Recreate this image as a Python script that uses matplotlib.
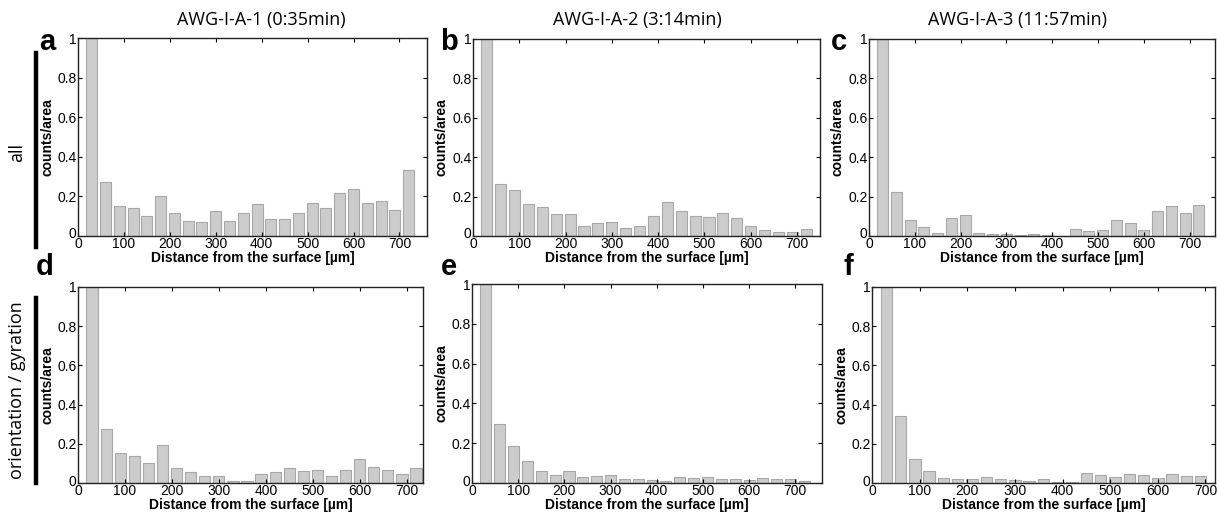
import numpy as np
import matplotlib
matplotlib.use("Agg")
import matplotlib.pyplot as plt
import matplotlib.transforms as mtransforms

# bin centres in micrometres (30 um bins)
bin_width = 30
titles = ["AWG-I-A-1 (0:35min)", "AWG-I-A-2 (3:14min)", "AWG-I-A-3 (11:57min)"]
row_labels = ["all", "orientation / gyration"]
letters = ["a", "b", "c", "d", "e", "f"]

all_1 = [1.0, 0.275, 0.15, 0.14, 0.10, 0.20, 0.115, 0.075, 0.07, 0.125, 0.075, 0.115,
         0.16, 0.085, 0.085, 0.115, 0.165, 0.14, 0.215, 0.235, 0.165, 0.175, 0.13, 0.335]
all_2 = [1.0, 0.265, 0.235, 0.16, 0.145, 0.11, 0.11, 0.05, 0.065, 0.07, 0.04, 0.05,
         0.10, 0.175, 0.125, 0.10, 0.095, 0.115, 0.09, 0.05, 0.03, 0.02, 0.02, 0.035]
all_3 = [1.0, 0.225, 0.08, 0.045, 0.015, 0.09, 0.105, 0.015, 0.012, 0.008, 0.005, 0.012,
         0.003, 0.002, 0.035, 0.025, 0.03, 0.08, 0.065, 0.03, 0.125, 0.15, 0.115, 0.155]
gyr_1 = [1.0, 0.275, 0.155, 0.14, 0.10, 0.195, 0.075, 0.055, 0.035, 0.035, 0.01, 0.01,
         0.045, 0.055, 0.075, 0.06, 0.065, 0.035, 0.065, 0.125, 0.08, 0.065, 0.045, 0.075]
gyr_2 = [1.0, 0.295, 0.185, 0.11, 0.06, 0.04, 0.06, 0.028, 0.035, 0.038, 0.02, 0.02,
         0.015, 0.012, 0.03, 0.027, 0.028, 0.022, 0.02, 0.015, 0.025, 0.02, 0.018, 0.012]
gyr_3 = [1.0, 0.34, 0.12, 0.06, 0.028, 0.022, 0.022, 0.03, 0.018, 0.015, 0.012, 0.02,
         0.005, 0.004, 0.052, 0.04, 0.03, 0.045, 0.042, 0.028, 0.048, 0.035, 0.038]

series = [all_1, all_2, all_3, gyr_1, gyr_2, gyr_3]
x_max = [760, 750, 755, 735, 758, 720]

# axes boxes in pixels (left, right, top, bottom) of a 1220x512 figure
W, H = 1220, 512
boxes = [(78, 427, 38, 236), (473, 820, 39, 236), (869, 1215, 39, 236),
         (78, 423, 287, 483), (472, 822, 284, 483), (872, 1215, 287, 483)]
# panel letter positions (centre x, baseline y) in pixels
letter_pos = [(47, 50), (449, 50), (839, 50), (45, 275), (449, 275), (848, 275)]
title_x = [261, 637, 1017]

fig = plt.figure(figsize=(12.2, 5.12), dpi=100)
tick_font = "Liberation Sans"
title_font = "Open Sans"

for i, (vals, box) in enumerate(zip(series, boxes)):
    l, r, t, b = box
    ax = fig.add_axes([l / W, 1 - b / H, (r - l) / W, (b - t) / H])
    centers = bin_width * np.arange(1, len(vals) + 1)
    ax.bar(centers, vals, width=24, color="#cccccc", edgecolor="#a8a8a8", linewidth=0.8)
    ax.set_xlim(0, x_max[i])
    ax.set_ylim(0, 1)
    ax.set_xticks(np.arange(0, 701, 100))
    ax.set_yticks([0, 0.2, 0.4, 0.6, 0.8, 1])
    ax.set_yticklabels(["0", "0.2", "0.4", "0.6", "0.8", "1"])
    ax.tick_params(direction="in", top=True, right=True, length=3, width=0.8,
                   labelsize=10, pad=1)
    for lab in ax.get_xticklabels() + ax.get_yticklabels():
        lab.set_fontfamily(tick_font)
    # lift the y "0" a little so it sits just above the x "0", as in the figure
    y0 = ax.get_yticklabels()[0]
    y0.set_transform(y0.get_transform() +
                     mtransforms.ScaledTranslation(0, 3 / 100, fig.dpi_scale_trans))
    for sp in ax.spines.values():
        sp.set_linewidth(1.0)
        sp.set_color("#222222")
    ax.set_xlabel("Distance from the surface [µm]", fontsize=10, fontweight="bold",
                  family=tick_font, labelpad=0)
    ax.set_ylabel("counts/area", fontsize=10, fontweight="bold", family=tick_font)
    ax.yaxis.set_label_coords(-24 / (r - l), 0.5)

    lx, ly = letter_pos[i]
    fig.text(lx / W, 1 - ly / H, letters[i], fontsize=21, fontweight="bold",
             family=tick_font, ha="center", va="baseline")

# column titles
for j, title in enumerate(titles):
    fig.text(title_x[j] / W, 1 - 20 / H, title, ha="center", va="center",
             fontsize=13, family=title_font)

# row labels with black bars
fig.text(17 / W, 1 - 152 / H, row_labels[0], rotation=90, ha="center", va="center",
         fontsize=13, family=title_font)
fig.text(17 / W, 1 - 390 / H, row_labels[1], rotation=90, ha="center", va="center",
         fontsize=13, family=title_font)
fig.add_artist(plt.Line2D([36 / W, 36 / W], [1 - 53 / H, 1 - 247 / H],
                          color="black", linewidth=3.2, transform=fig.transFigure))
fig.add_artist(plt.Line2D([36 / W, 36 / W], [1 - 298 / H, 1 - 483 / H],
                          color="black", linewidth=3.2, transform=fig.transFigure))

fig.savefig("out.png", dpi=100)
